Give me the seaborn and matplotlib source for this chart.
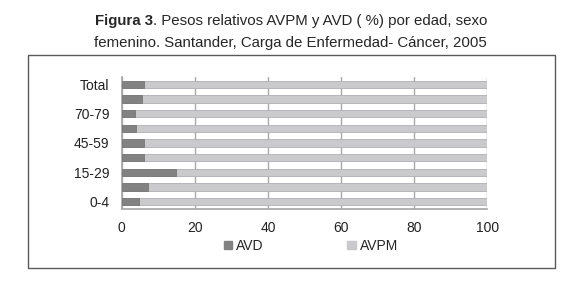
import seaborn as sns
import matplotlib.pyplot as plt
import pandas as pd
from matplotlib.patches import Rectangle, Patch

# ===== datos (de arriba hacia abajo) =====
grupos = ["Total", "80 y más", "70-79", "60-69", "45-59", "30-44", "15-29", "5-14", "0-4"]
avd = [6.1, 5.4, 3.6, 3.8, 6.0, 6.1, 14.9, 7.3, 4.6]
avpm = [93.9, 94.6, 96.4, 96.2, 94.0, 93.9, 85.1, 92.7, 95.4]
etiquetas = ["Total", "", "70-79", "", "45-59", "", "15-29", "", "0-4"]

df = pd.DataFrame({"grupo": grupos, "AVD": avd, "AVPM": avpm})
df["total"] = df["AVD"] + df["AVPM"]

avd_color = "#828282"
avpm_color = "#c9c9cd"

sns.set_theme(style="white")
plt.rcParams["font.family"] = ["Liberation Sans", "DejaVu Sans"]

fig = plt.figure(figsize=(5.8, 2.83), dpi=100)
ax = fig.add_axes([0.210, 0.262, 0.630, 0.466])

# marco exterior
fig.patches.append(Rectangle((0.048, 0.053), 0.909, 0.753, transform=fig.transFigure,
                             fill=False, edgecolor="#5a5a5a", linewidth=1.0))

# ===== barras apiladas =====
sns.barplot(data=df, y="grupo", x="total", order=grupos, color=avpm_color,
            width=0.5, edgecolor="#b0b0b4", linewidth=0.6, ax=ax, zorder=3)
sns.barplot(data=df, y="grupo", x="AVD", order=grupos, color=avd_color,
            width=0.5, edgecolor="#777777", linewidth=0.6, ax=ax, zorder=4)

ax.set_xlim(0, 100)
ax.set_xticks([0, 20, 40, 60, 80, 100])
ax.set_yticks(range(len(grupos)))
ax.set_yticklabels(etiquetas)
ax.set_xlabel("")
ax.set_ylabel("")
ax.xaxis.grid(True, color="#a8a8a8", linewidth=1.0)
ax.set_axisbelow(True)
for s in ["top", "right"]:
    ax.spines[s].set_visible(False)
for s in ["left", "bottom"]:
    ax.spines[s].set_color("#a8a8a8")
ax.tick_params(axis="both", labelsize=10, colors="#222222", length=3)
ax.tick_params(axis="x", pad=6, color="#a8a8a8")
ax.tick_params(axis="y", pad=6, color="#a8a8a8")

# ===== leyenda =====
handles = [Patch(color=avd_color, label="AVD"), Patch(color=avpm_color, label="AVPM")]
fig.legend(handles=handles, loc="center", bbox_to_anchor=(0.536, 0.131), ncol=2,
           frameon=False, fontsize=10, handlelength=0.6, handleheight=0.6,
           handletextpad=0.3, columnspacing=6.0)

# ===== título =====
t1 = fig.text(0.164, 0.912, "Figura 3", fontsize=10.8, fontweight="bold", va="baseline")
fig.canvas.draw()
bb = t1.get_window_extent()
fig.text(bb.x1 / fig.bbox.width, 0.912,
         ". Pesos relativos AVPM y AVD ( %) por edad, sexo", fontsize=10.8, va="baseline")
fig.text(0.5, 0.835, "femenino. Santander, Carga de Enfermedad- Cáncer, 2005",
         fontsize=10.8, ha="center", va="baseline")

fig.savefig("out.png", dpi=100)
